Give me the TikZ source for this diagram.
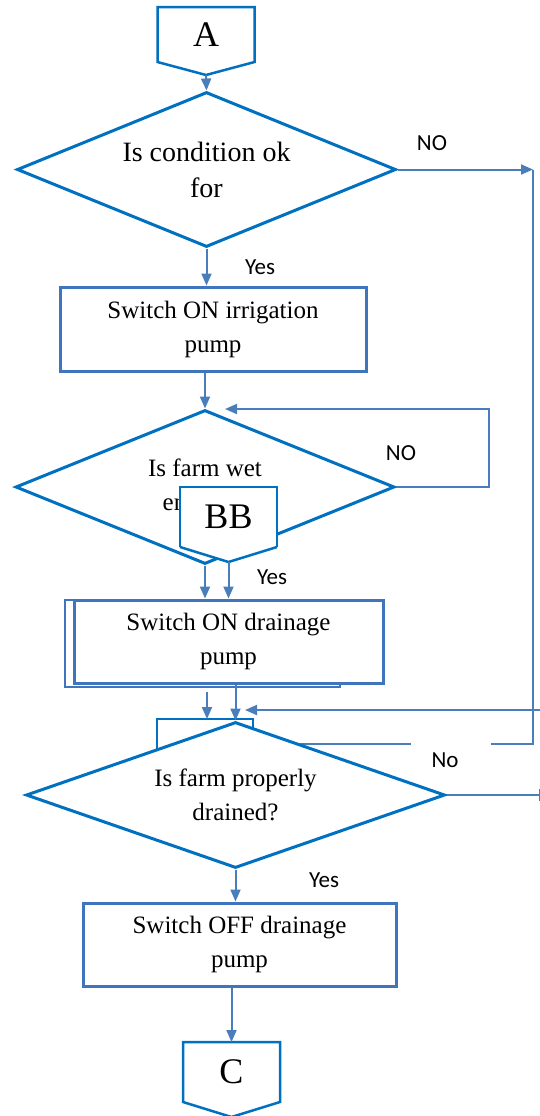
\documentclass[tikz,border=0pt]{standalone}
\usepackage{fontspec}
\setmainfont{Liberation Serif}
\newfontfamily\lblfont{Carlito}
\usepackage{tikz}
\usetikzlibrary{shapes.geometric,arrows.meta,positioning}

\definecolor{shapeblue}{HTML}{0070C0}
\definecolor{boxblue}{HTML}{3F75BD}
\definecolor{linkblue}{HTML}{4A7EBB}

\tikzset{
  decision/.style={diamond, draw=shapeblue, line width=1.5pt, fill=white,
    inner sep=0pt, aspect=2.6, align=center,
    font=\fontsize{12.5pt}{17pt}\selectfont},
  process/.style={rectangle, draw=boxblue, line width=1.5pt, fill=white,
    align=center, font=\fontsize{12.5pt}{17pt}\selectfont},
  conn/.style={rectangle, fill=white, inner sep=0pt, outer sep=0pt,
    minimum width=48.5pt, minimum height=30pt, font=\fontsize{18pt}{20pt}\selectfont},
  connline/.style={draw=shapeblue, line width=1.25pt},
  link/.style={draw=linkblue, line width=1pt},
  arrow/.style={link, -{Triangle[length=6pt,width=5pt]}},
  lbl/.style={font=\lblfont\fontsize{11.5pt}{13pt}\selectfont, inner sep=0pt}
}

\begin{document}
\begin{tikzpicture}[x=0.5pt,y=-0.5pt]
\clip (0,0) rectangle (540,1116);
\fill[white] (0,0) rectangle (540,1116);

% start connector
\node[conn, minimum height=27.5pt] (A) at (206,34.5) {A};
\draw[connline] (A.south east) -- ++(-48.5,13) coordinate (A tip) -- (A.south west)
  -- (A.north west) -- (A.north east) -- cycle;

% first decision
\node[decision, minimum width=189.5pt, minimum height=77.5pt,
  font=\fontsize{14pt}{18pt}\selectfont] (d1) at (206.5,169.5)
  {Is condition ok\\for};
\draw[arrow] (A tip) -- (d1.north);

\coordinate (r1) at (533,169.5);
\coordinate (g1) at (491,744);
\coordinate (g2) at (411,744);
\coordinate (g3) at (300,744);
\draw[arrow] (d1.east) -- (r1);
\draw[link] (r1) |- (g1);
\draw[link] (g2) -- (g3);
\node[lbl] (no1) at (432,143) {NO};

\node[process, minimum width=153pt, minimum height=42pt] (b1) at (213,329)
  {Switch ON irrigation\\pump};
\draw[arrow] (d1.south) -- (d1.south |- b1.north);
\node[lbl] (yes1) at (260,267) {Yes};

% second decision
\node[decision, minimum width=189.5pt, minimum height=77pt] (d2) at (205,487)
  {Is farm wet\\enough?};
\draw[arrow] (b1.south -| d2.north) -- (d2.north);

\coordinate (n2) at (489,409);
\coordinate (d2in) at (225,409);
\draw[arrow] (d2.east) -| (n2) -- (d2in);
\node[lbl] (no2) at (401,453) {NO};

% connector over the diamond
\node[conn] (BB) at (228.5,517) {BB};
\draw[connline, fill=white] (BB.south east) -- ++(-48.5,15) coordinate (BB tip) -- (BB.south west);
\draw[connline] (BB.south west) -- (BB.north west) -- (BB.north east) -- (BB.south east);

\draw[draw=boxblue, line width=1pt] (65,600) rectangle (340,687);
\node[process, minimum width=154.5pt, minimum height=41.5pt] (b2) at (228.5,641.5)
  {Switch ON drainage\\pump};
\draw[arrow] (d2.south) -- (d2.south |- b2.north);
\draw[arrow] (BB tip) -- (BB tip |- b2.north);
\node[lbl] (yes2) at (272,577) {Yes};

% hidden connector behind third decision
\coordinate (h1) at (157,719);
\coordinate (h2) at (253,719);
\draw[connline] (157,760) -- (h1) -- (h2) -- (253,735);

% third decision
\node[decision, minimum width=209.5pt, minimum height=73pt] (d3) at (235.5,795)
  {Is farm properly\\drained?};

\coordinate (j1) at (207,692);
\draw[arrow] (j1) -- (j1 |- h1);
\draw[arrow] (b2.south -| d3.north) -- (d3.north);

\coordinate (r2) at (540,710);
\coordinate (d3in) at (245,710);
\draw[arrow] (r2) -- (d3in);

\draw[link] (d3.east) -- (d3.east -| r2) coordinate (r3);
\draw[link] (r3) ++(0,-6) -- ++(0,12);
\node[lbl] (no3) at (445,760) {No};

\node[process, minimum width=156.5pt, minimum height=41.5pt] (b3) at (239.5,944.5)
  {Switch OFF drainage\\pump};
\draw[arrow] (d3.south) -- (d3.south |- b3.north);
\node[lbl] (yes3) at (324,880) {Yes};

% end connector
\node[conn] (C) at (231.5,1072) {C};
\draw[connline] (C.south east) -- ++(-48.5,15) coordinate (C tip) -- (C.south west)
  -- (C.north west) -- (C.north east) -- cycle;
\draw[arrow] (b3.south -| C.north) -- (C.north);
\end{tikzpicture}
\end{document}
